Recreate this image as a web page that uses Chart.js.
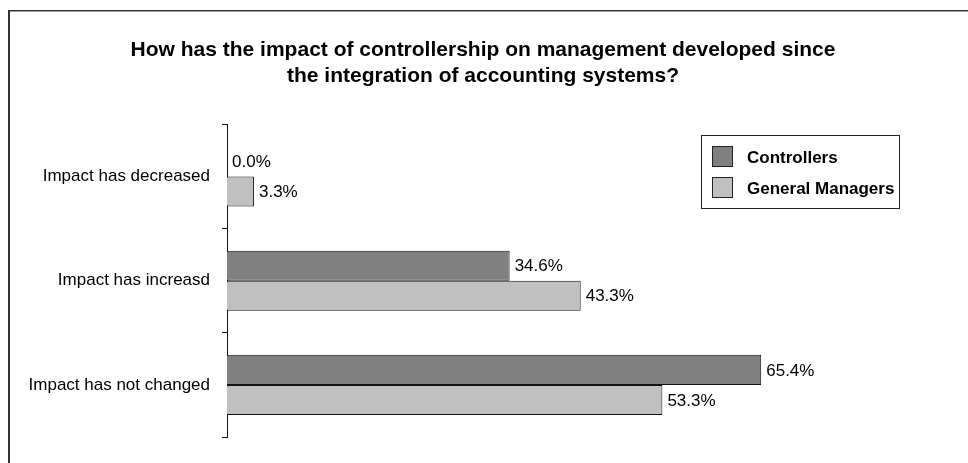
<!DOCTYPE html>
<html>
<head>
<meta charset="utf-8">
<script src="https://cdn.jsdelivr.net/npm/chart.js@4.4.1/dist/chart.umd.min.js"></script>
<style>
  body { margin: 0; background: #fff; }
  #wrap { position: relative; width: 968px; height: 463px; }
</style>
</head>
<body>
<div id="wrap"><canvas id="barChart"></canvas></div>
<script>
var categories = ["Impact has decreased", "Impact has increasd", "Impact has not changed"];
var controllers = [0.0, 34.6, 65.4];
var generalManagers = [3.3, 43.3, 53.3];
var titleLines = [
  "How has the impact of controllership on management developed since",
  "the integration of accounting systems?"
];

var FONT = "'Liberation Sans', Arial, Helvetica, sans-serif";

// thin frame on the left and top edge
var framePlugin = {
  id: "frame",
  beforeDraw: function (chart) {
    var ctx = chart.ctx;
    ctx.save();
    ctx.fillStyle = "#fff";
    ctx.fillRect(0, 0, chart.width, chart.height);
    ctx.fillStyle = "#333";
    ctx.fillRect(8, 10, 2, chart.height - 10);
    ctx.fillRect(8, 10, chart.width - 8, 1.5);
    ctx.restore();
  }
};

// value labels at the end of each bar
var valueLabels = {
  id: "valueLabels",
  afterDatasetsDraw: function (chart) {
    var ctx = chart.ctx;
    ctx.save();
    ctx.font = "17px " + FONT;
    ctx.fillStyle = "#000";
    ctx.textAlign = "left";
    ctx.textBaseline = "middle";
    chart.data.datasets.forEach(function (ds, i) {
      chart.getDatasetMeta(i).data.forEach(function (bar, j) {
        ctx.fillText(ds.data[j].toFixed(1) + "%", bar.x + 5, bar.y + 1);
      });
    });
    ctx.restore();
  }
};

// boxed legend on the right
var boxLegend = {
  id: "boxLegend",
  afterDraw: function (chart) {
    var ctx = chart.ctx;
    var x = 701, y = 135, w = 198, h = 73;
    ctx.save();
    ctx.fillStyle = "#fff";
    ctx.fillRect(x, y, w, h);
    ctx.strokeStyle = "#222";
    ctx.lineWidth = 1;
    ctx.strokeRect(x + 0.5, y + 0.5, w, h);
    ctx.font = "bold 17px " + FONT;
    ctx.textBaseline = "middle";
    chart.data.datasets.forEach(function (ds, i) {
      var sy = y + 11 + i * 31;
      ctx.fillStyle = ds.backgroundColor;
      ctx.fillRect(x + 11, sy, 20, 20);
      ctx.strokeStyle = "#222";
      ctx.strokeRect(x + 11.5, sy + 0.5, 20, 20);
      ctx.fillStyle = "#000";
      ctx.fillText(ds.label, x + 46, sy + 12);
    });
    ctx.restore();
  }
};

var ctx = document.getElementById("barChart").getContext("2d");
var chart = new Chart(ctx, {
  type: "bar",
  data: {
    labels: categories,
    datasets: [
      { label: "Controllers", data: controllers,
        backgroundColor: "#808080", borderColor: "#111", borderWidth: 1 },
      { label: "General Managers", data: generalManagers,
        backgroundColor: "#c0c0c0", borderColor: "#111", borderWidth: 1 }
    ]
  },
  options: {
    indexAxis: "y",
    responsive: true,
    maintainAspectRatio: false,
    animation: false,
    categoryPercentage: 0.577,
    barPercentage: 1.0,
    layout: { padding: { top: 10, left: 12, right: 14, bottom: 26 } },
    plugins: {
      legend: { display: false },
      tooltip: { enabled: false },
      title: {
        display: true,
        text: titleLines,
        color: "#000",
        font: { family: FONT, size: 21, weight: "bold", lineHeight: 1.2 },
        padding: { top: 28, bottom: 36 }
      }
    },
    scales: {
      x: { display: false, min: 0, max: 89 },
      y: {
        afterFit: function (scale) { scale.width = 215; },
        grid: {
          offset: true,
          drawOnChartArea: false,
          drawTicks: true,
          tickLength: 5,
          color: "#111"
        },
        border: { display: true, color: "#111", width: 1 },
        ticks: {
          color: "#000",
          padding: 12,
          font: { family: FONT, size: 17 }
        }
      }
    }
  },
  plugins: [framePlugin, valueLabels, boxLegend]
});
</script>
</body>
</html>
